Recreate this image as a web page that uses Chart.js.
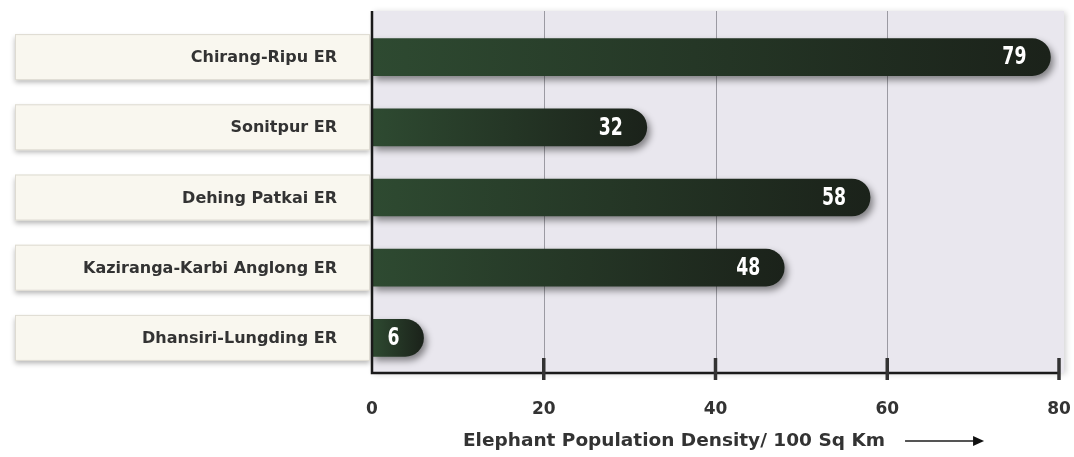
<!DOCTYPE html>
<html>
<head>
<meta charset="utf-8">
<title>Elephant Population Density</title>
<script src="https://cdn.jsdelivr.net/npm/chart.js@4.4.1/dist/chart.umd.min.js"></script>
<style>
  html, body { margin: 0; padding: 0; background: #ffffff; }
  #wrap { width: 1074px; height: 457px; position: relative; }
</style>
</head>
<body>
<div id="wrap"><canvas id="densityChart" width="1074" height="457"></canvas></div>
<script>
// =====================
// Data
// =====================
const regions = ['Chirang-Ripu ER', 'Sonitpur ER', 'Dehing Patkai ER', 'Kaziranga-Karbi Anglong ER', 'Dhansiri-Lungding ER'];
const density = [79, 32, 58, 48, 6];
const xTicks = [0, 20, 40, 60, 80];
const axisTitle = 'Elephant Population Density/ 100 Sq Km';

const PANEL_BG = '#e9e7ee';
const BOX_BG = '#f9f7ef';
const TEXT = '#333333';

// gradient per bar, light green at the axis, almost black at the end
function barGradient(ctx) {
    const chart = ctx.chart;
    const area = chart.chartArea;
    if (!area) return '#26372a';
    const xEnd = chart.scales.x.getPixelForValue(ctx.raw);
    const g = chart.ctx.createLinearGradient(area.left, 0, xEnd, 0);
    g.addColorStop(0, '#2e4a31');
    g.addColorStop(1, '#1b221a');
    return g;
}

// =====================
// Custom drawing
// =====================
const decorPlugin = {
    id: 'decor',
    beforeDraw(chart) {
        const { ctx, chartArea: a, scales } = chart;
        const x = scales.x, y = scales.y;
        const panelTop = a.top - 11;

        // plot panel
        ctx.save();
        ctx.shadowColor = 'rgba(0,0,0,0.18)';
        ctx.shadowBlur = 6;
        ctx.shadowOffsetX = 2;
        ctx.shadowOffsetY = 1;
        ctx.fillStyle = PANEL_BG;
        ctx.fillRect(a.left, panelTop, a.right - a.left + 5, a.bottom - panelTop);
        ctx.restore();

        // vertical grid lines
        ctx.save();
        ctx.strokeStyle = '#9b9aa2';
        ctx.lineWidth = 1;
        xTicks.slice(1, -1).forEach(v => {
            const px = Math.round(x.getPixelForValue(v)) + 0.5;
            ctx.beginPath();
            ctx.moveTo(px, panelTop);
            ctx.lineTo(px, a.bottom);
            ctx.stroke();
        });
        ctx.restore();

        // category label boxes
        ctx.save();
        regions.forEach((name, i) => {
            const cy = y.getPixelForValue(i);
            ctx.save();
            ctx.shadowColor = 'rgba(0,0,0,0.28)';
            ctx.shadowBlur = 5;
            ctx.shadowOffsetY = 3;
            ctx.fillStyle = BOX_BG;
            ctx.fillRect(15, cy - 23, a.left - 17, 46);
            ctx.restore();
            ctx.strokeStyle = '#dedbd2';
            ctx.lineWidth = 1;
            ctx.strokeRect(15.5, cy - 22.5, a.left - 18, 45);
            ctx.fillStyle = TEXT;
            ctx.font = 'bold 16px "DejaVu Sans"';
            ctx.textAlign = 'right';
            ctx.textBaseline = 'middle';
            ctx.fillText(name, a.left - 35, cy + 1);
        });
        ctx.restore();
    },
    beforeDatasetsDraw(chart) {
        const ctx = chart.ctx;
        ctx.save();
        ctx.shadowColor = 'rgba(0,0,0,0.45)';
        ctx.shadowBlur = 7;
        ctx.shadowOffsetX = 3;
        ctx.shadowOffsetY = 4;
    },
    afterDatasetsDraw(chart) {
        const ctx = chart.ctx;
        ctx.restore();

        // value labels inside the bar ends, condensed by a horizontal squeeze
        const meta = chart.getDatasetMeta(0);
        const squeeze = 0.72;
        ctx.save();
        ctx.fillStyle = '#ffffff';
        ctx.font = 'bold 24px "DejaVu Sans"';
        ctx.textAlign = 'right';
        ctx.textBaseline = 'middle';
        meta.data.forEach((bar, i) => {
            ctx.save();
            ctx.translate(bar.x - 24, bar.y + 1);
            ctx.scale(squeeze, 1);
            ctx.fillText(String(density[i]), 0, 0);
            ctx.restore();
        });
        ctx.restore();
    },
    afterDraw(chart) {
        const { ctx, chartArea: a, scales } = chart;
        const x = scales.x;
        const panelTop = a.top - 11;

        ctx.save();
        // axis lines
        ctx.strokeStyle = '#1a1a1a';
        ctx.lineWidth = 2.5;
        ctx.beginPath();
        ctx.moveTo(a.left, panelTop);
        ctx.lineTo(a.left, a.bottom);
        ctx.lineTo(x.getPixelForValue(xTicks[xTicks.length - 1]), a.bottom);
        ctx.stroke();

        // tick marks
        ctx.strokeStyle = '#333333';
        ctx.lineWidth = 3.5;
        xTicks.slice(1).forEach(v => {
            const px = x.getPixelForValue(v);
            ctx.beginPath();
            ctx.moveTo(px, a.bottom - 15);
            ctx.lineTo(px, a.bottom + 7);
            ctx.stroke();
        });

        // tick labels
        ctx.fillStyle = TEXT;
        ctx.font = 'bold 17px "DejaVu Sans"';
        ctx.textAlign = 'center';
        ctx.textBaseline = 'middle';
        xTicks.forEach(v => {
            ctx.fillText(String(v), x.getPixelForValue(v), a.bottom + 37);
        });

        // axis title with arrow
        ctx.font = 'bold 18.5px "DejaVu Sans"';
        ctx.textAlign = 'left';
        const tw = ctx.measureText(axisTitle).width;
        const gap = 20, arrowLen = 79;
        const total = tw + gap + arrowLen;
        const cx = (a.left + a.right) / 2 + 8;
        const tx = cx - total / 2;
        const ty = a.bottom + 68;
        ctx.fillText(axisTitle, tx, ty);

        const ax0 = tx + tw + gap, ax1 = ax0 + arrowLen;
        ctx.strokeStyle = '#555555';
        ctx.lineWidth = 2;
        ctx.beginPath();
        ctx.moveTo(ax0, ty);
        ctx.lineTo(ax1 - 8, ty);
        ctx.stroke();
        ctx.fillStyle = '#111111';
        ctx.beginPath();
        ctx.moveTo(ax1, ty);
        ctx.lineTo(ax1 - 11, ty - 5);
        ctx.lineTo(ax1 - 11, ty + 5);
        ctx.closePath();
        ctx.fill();
        ctx.restore();
    }
};

// =====================
// Chart
// =====================
const densityChart = new Chart(document.getElementById('densityChart'), {
    type: 'bar',
    data: {
        labels: regions,
        datasets: [{
            label: 'Density',
            data: density,
            backgroundColor: barGradient,
            borderRadius: 19,
            borderSkipped: 'start',
            barThickness: 37
        }]
    },
    options: {
        indexAxis: 'y',
        responsive: false,
        animation: false,
        layout: { padding: { left: 372, right: 15, top: 22, bottom: 84 } },
        plugins: { legend: { display: false }, tooltip: { enabled: false } },
        scales: {
            x: { display: false, min: 0, max: 80 },
            y: { display: false }
        }
    },
    plugins: [decorPlugin]
});
</script>
</body>
</html>
